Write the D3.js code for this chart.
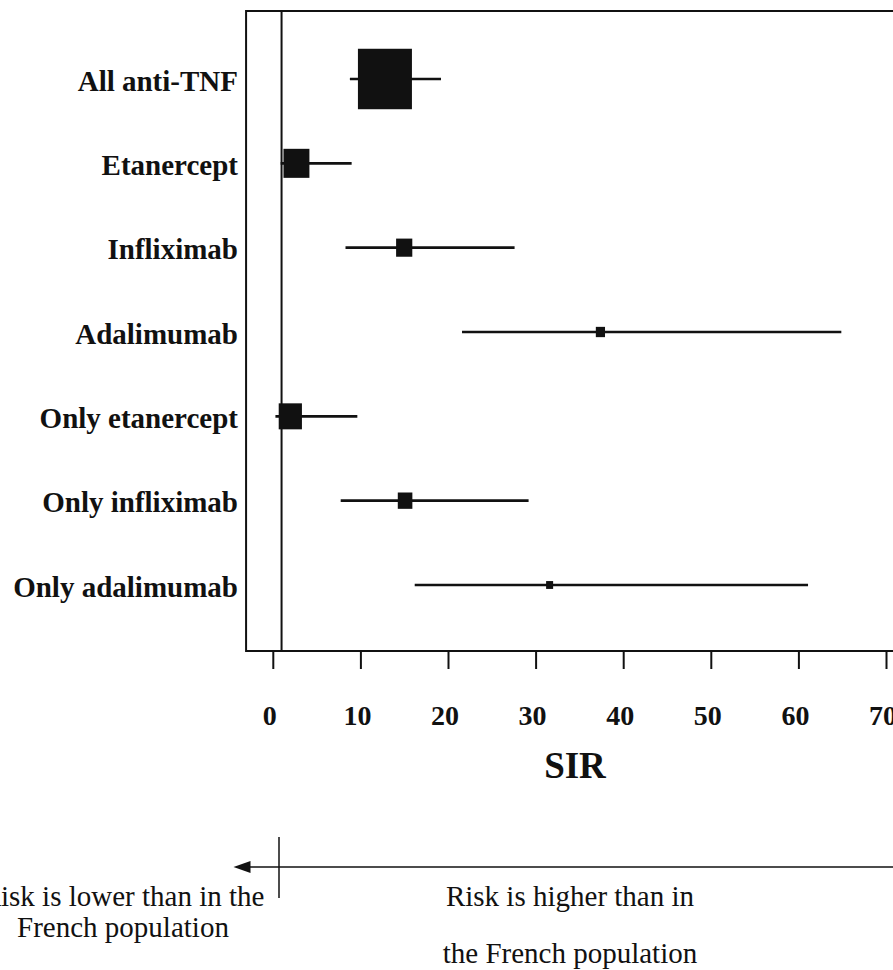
<!DOCTYPE html>
<html>
<head>
<meta charset="utf-8">
<script src="https://cdn.jsdelivr.net/npm/d3@7"></script>
<style>
  html, body { margin: 0; padding: 0; background: #fff; }
  svg { display: block; }
</style>
</head>
<body>
<svg id="chart" width="893" height="970"></svg>
<script>
// ---- data ----
const categories = ["All anti-TNF", "Etanercept", "Infliximab", "Adalimumab",
                    "Only etanercept", "Only infliximab", "Only adalimumab"];
const sir   = [12.8, 2.7, 15.0, 37.4, 2.0, 15.1, 31.6];
const lower = [8.8, 0.9, 8.3, 21.6, 0.3, 7.75, 16.2];
const upper = [19.2, 9.0, 27.6, 64.9, 9.65, 29.2, 61.1];
const weight = [100, 48, 30, 17, 43, 27, 13];
const tickValues = [0, 10, 20, 30, 40, 50, 60, 70];
const refValue = 1;
const axisTitle = "SIR";
const lowerText = ["Risk is lower than in the", "French population"];
const higherText = ["Risk is higher than in", "the French population"];

const rows = categories.map((c, i) => ({ cat: c, sir: sir[i], lo: lower[i], hi: upper[i], w: weight[i] }));

const svg = d3.select("#chart");
const ink = "#111";
const serif = "'Liberation Serif', 'Times New Roman', serif";

const x = d3.scaleLinear().domain([0, 70]).range([272.8, 886]);
const y = d3.scalePoint().domain(categories).range([79, 585]);
const size = d3.scaleLinear().domain([0, 100]).range([0, 54]);

const frameTop = 11, frameBottom = 651;

// frame
svg.append("rect")
  .attr("x", x(-3.05)).attr("y", frameTop)
  .attr("width", 910 - x(-3.05)).attr("height", frameBottom - frameTop)
  .attr("fill", "none").attr("stroke", ink).attr("stroke-width", 2);

// reference line
svg.append("line")
  .attr("x1", x(refValue)).attr("x2", x(refValue))
  .attr("y1", frameTop).attr("y2", frameBottom)
  .attr("stroke", ink).attr("stroke-width", 2);

// whiskers
svg.append("g").selectAll("line").data(rows).join("line")
  .attr("x1", d => x(d.lo)).attr("x2", d => x(d.hi))
  .attr("y1", d => y(d.cat)).attr("y2", d => y(d.cat))
  .attr("stroke", ink).attr("stroke-width", 2.6);

// boxes
svg.append("g").selectAll("rect").data(rows).join("rect")
  .attr("x", d => x(d.sir) - size(d.w) / 2)
  .attr("y", d => y(d.cat) - size(d.w) * 1.12 / 2)
  .attr("width", d => size(d.w))
  .attr("height", d => size(d.w) * 1.12)
  .attr("fill", ink);

// category labels
svg.append("g").selectAll("text").data(rows).join("text")
  .attr("x", 238).attr("y", d => y(d.cat) + 11.5)
  .attr("text-anchor", "end")
  .attr("font-family", serif)
  .attr("font-weight", "bold").attr("font-size", 29)
  .attr("fill", ink)
  .text(d => d.cat);

// x axis
const axis = d3.axisBottom(x).tickValues(tickValues).tickSize(18).tickPadding(36).tickFormat(d3.format("d"));
const ag = svg.append("g").attr("transform", `translate(0,${frameBottom})`).call(axis);
ag.select(".domain").remove();
ag.selectAll(".tick line").attr("stroke", ink).attr("stroke-width", 2);
ag.selectAll(".tick text")
  .attr("font-family", serif)
  .attr("font-weight", "bold").attr("font-size", 28)
  .attr("fill", ink).attr("dx", -3.5);

// axis title
svg.append("text")
  .attr("x", 575).attr("y", 778)
  .attr("text-anchor", "middle")
  .attr("font-family", serif)
  .attr("font-weight", "bold").attr("font-size", 37)
  .attr("fill", ink)
  .text(axisTitle);

// bottom arrow
const arrowY = 867, arrowTip = 233.5;
svg.append("line")
  .attr("x1", arrowTip + 10).attr("x2", 900)
  .attr("y1", arrowY).attr("y2", arrowY)
  .attr("stroke", ink).attr("stroke-width", 1.5);
svg.append("path")
  .attr("d", `M${arrowTip},${arrowY} L${arrowTip + 17},${arrowY - 6} L${arrowTip + 17},${arrowY + 6} Z`)
  .attr("fill", ink);

svg.append("line")
  .attr("x1", 279).attr("x2", 279)
  .attr("y1", 837).attr("y2", 898)
  .attr("stroke", ink).attr("stroke-width", 1.5);

function para(lines, cx, ys) {
  lines.forEach((t, i) => {
    svg.append("text")
      .attr("x", cx).attr("y", ys[i])
      .attr("text-anchor", "middle")
      .attr("font-family", serif).attr("font-size", 29)
      .attr("fill", ink)
      .text(t);
  });
}
para(lowerText, 123, [906, 937]);
para(higherText, 570, [906, 963]);
</script>
</body>
</html>
